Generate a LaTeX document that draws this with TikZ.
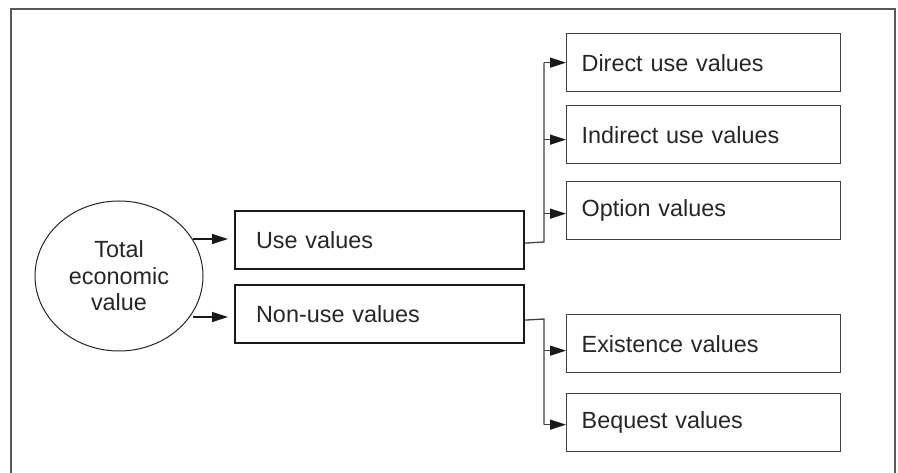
\documentclass[tikz,border=0pt]{standalone}
\usepackage{fontspec}
\setmainfont{Liberation Sans}
\usetikzlibrary{arrows.meta,shapes.geometric,calc}
\begin{document}
\begin{tikzpicture}[x=1pt,y=-1pt,
  every node/.style={font=\fontsize{23.4}{26.5}\selectfont, text=black!85},
  mainbox/.style={draw=black!90, line width=2.2pt, rectangle, minimum width=289pt, minimum height=58pt, inner xsep=21pt, text width=247pt, align=left, anchor=north west},
  subbox/.style={draw=black!75, line width=1.3pt, rectangle, minimum width=274pt, minimum height=58pt, inner xsep=15pt, text width=244pt, align=left, anchor=north west},
  conn/.style={draw=black!75, line width=1.3pt},
  arr/.style={conn, -{Triangle[length=16pt,width=10pt,color=black!90]}},
  farr/.style={draw=black!90, line width=1.3pt, -{Triangle[length=16pt,width=10pt]}}
]
\useasboundingbox (0,0) rectangle (898,473);
\draw[draw=black!65, line width=2pt] (11,480) -- (11,9) -- (895,9) -- (895,480);

\node[ellipse, draw=black!85, line width=1pt, minimum width=168pt, minimum height=150pt, inner sep=0pt, align=center] (tev) at (119,276) {Total\\economic\\value};

\node[mainbox] (use) at (234,210) {Use values};
\node[mainbox] (nonuse) at (234,284) {Non-use values};

\node[subbox] (direct) at (566,33) {Direct use values};
\node[subbox] (indirect) at (566,105) {Indirect use values};
\node[subbox] (option) at (566,181) {Option values};
\node[subbox] (exist) at (566,314) {Existence values};
\node[subbox] (bequest) at (566,393) {Bequest values};

\coordinate (tevA) at (193,239);
\coordinate (tevB) at (193,317);
\draw[farr] (tevA) -- ($(tevA -| use.west)+(-6,0)$);
\draw[farr] (tevB) -- ($(tevB -| nonuse.west)+(-6,0)$);

\coordinate (ubr) at ($(use.east)+(0,3)$);
\coordinate (usplit) at (544,242);
\draw[conn] (ubr) -- (usplit) -- (usplit |- direct.west);
\draw[arr] (usplit |- direct.west) -- (direct.west);
\draw[arr] ($(usplit |- indirect.west)+(0,5)$) -- ($(indirect.west)+(0,5)$);
\draw[arr] ($(usplit |- option.west)+(0,3)$) -- ($(option.west)+(0,3)$);

\coordinate (nbr) at ($(nonuse.east)+(0,6)$);
\coordinate (nsplit) at (544,319);
\draw[conn] (nbr) -- (nsplit) -- ($(nsplit |- bequest.west)+(0,2)$);
\draw[arr] ($(nsplit |- exist.west)+(0,7)$) -- ($(exist.west)+(0,7)$);
\draw[arr] ($(nsplit |- bequest.west)+(0,2)$) -- ($(bequest.west)+(0,2)$);
\end{tikzpicture}
\end{document}
